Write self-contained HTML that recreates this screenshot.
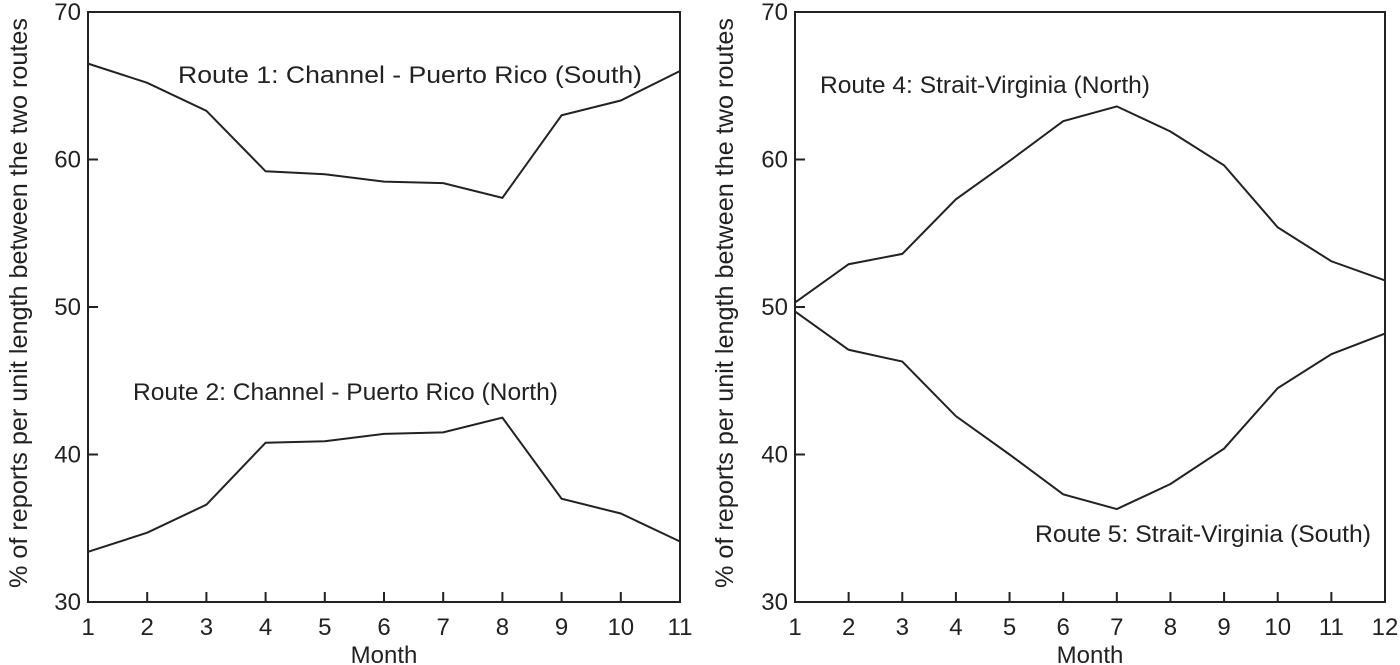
<!DOCTYPE html>
<html><head><meta charset="utf-8"><style>
body{margin:0;background:#fff}
svg{display:block;font-family:"Liberation Sans",Arial,sans-serif}
</style></head><body>
<svg id="c" width="1400" height="665"></svg>
<script>
const monthsL=[1,2,3,4,5,6,7,8,9,10,11];
const route1=[66.5,65.2,63.3,59.2,59.0,58.5,58.4,57.4,63.0,64.0,66.0];
const route2=[33.4,34.7,36.6,40.8,40.9,41.4,41.5,42.5,37.0,36.0,34.1];
const monthsR=[1,2,3,4,5,6,7,8,9,10,11,12];
const route4=[50.3,52.9,53.6,57.3,59.9,62.6,63.6,61.9,59.6,55.4,53.1,51.8];
const route5=[49.7,47.1,46.3,42.6,40.0,37.3,36.3,38.0,40.4,44.5,46.8,48.2];
const yTicks=[30,40,50,60,70];
const NS="http://www.w3.org/2000/svg";
const svg=document.getElementById('c');
function mk(t,a,p){const e=document.createElementNS(NS,t);for(const k in a)e.setAttribute(k,a[k]);(p||svg).appendChild(e);return e;}
function panel(name,x0,x1,months,series,labels,ylabelX){
  const y0=12,y1=602;
  const g=mk('g',{});
  
  
  const sx=m=>x0+(m-months[0])/(months[months.length-1]-months[0])*(x1-x0);
  const sy=v=>y1-(v-30)/40*(y1-y0);
  const fr=mk('rect',{x:x0,y:y0,width:x1-x0,height:y1-y0,fill:'none',stroke:'#222','stroke-width':2},g);
  
  
  months.forEach(m=>{
    const x=sx(m);
    if(m!==months[0]&&m!==months[months.length-1]){mk('line',{x1:x,x2:x,y1:y1,y2:y1-10,stroke:'#222','stroke-width':2},g);}
    const t=mk('text',{x:x,y:y1+33,'text-anchor':'middle','font-size':24,fill:'#222'},g);
    t.textContent=m;
    
    
  });
  yTicks.forEach(v=>{
    const y=sy(v);
    if(v!==30&&v!==70){mk('line',{x1:x0,x2:x0+10,y1:y,y2:y,stroke:'#222','stroke-width':2},g);}
    const t=mk('text',{x:x0-7,y:y+8,'text-anchor':'end','font-size':24,fill:'#222'},g);
    t.textContent=v;
    
    
  });
  const xt=mk('text',{x:(x0+x1)/2,y:663,'text-anchor':'middle','font-size':24,fill:'#222'},g);
  xt.textContent='Month';
  
  
  const yt=mk('text',{x:0,y:0,'text-anchor':'middle','font-size':25,fill:'#222',textLength:570,lengthAdjust:'spacingAndGlyphs',transform:`translate(${ylabelX},303) rotate(-90)`},g);
  yt.textContent='% of reports per unit length between the two routes';
  
  
  series.forEach((s,i)=>{
    const p=mk('polyline',{points:s.map((v,j)=>sx(months[j])+','+sy(v)).join(' '),fill:'none',stroke:'#222','stroke-width':2},g);
    
    
    const t=mk('text',{x:labels[i].x,y:labels[i].y,'font-size':24,fill:'#222',textLength:labels[i].w,lengthAdjust:'spacingAndGlyphs'},g);
    t.textContent=labels[i].text;
    
    
  });
}
panel('left-panel',88,680,monthsL,[route1,route2],[
 {id:1,x:178,y:83,w:464,text:'Route 1: Channel - Puerto Rico (South)'},
 {id:2,x:133,y:400,w:425,text:'Route 2: Channel - Puerto Rico (North)'}],27);
panel('right-panel',795,1385,monthsR,[route4,route5],[
 {id:4,x:820,y:93,w:330,text:'Route 4: Strait-Virginia (North)'},
 {id:5,x:1035,y:542,w:336,text:'Route 5: Strait-Virginia (South)'}],733);
</script>
</body></html>
